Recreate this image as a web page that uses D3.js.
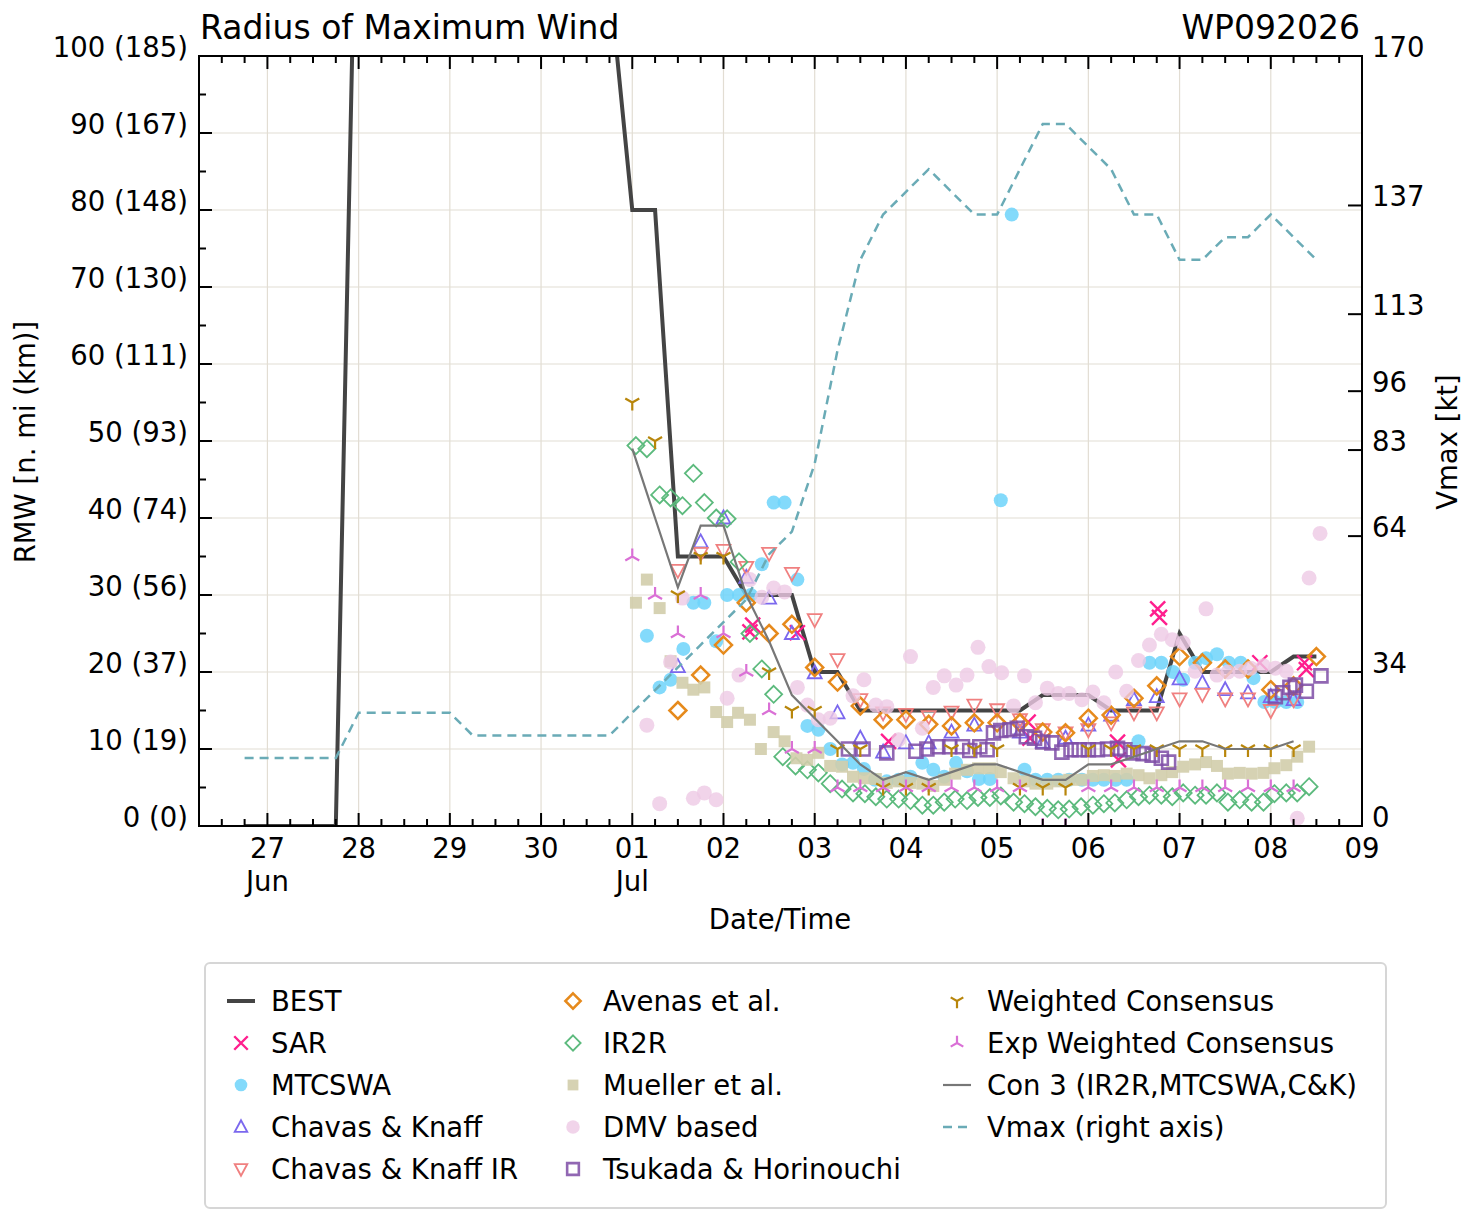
<!DOCTYPE html>
<html>
<head>
<meta charset="utf-8">
<script src="https://cdn.jsdelivr.net/npm/d3@7"></script>
<style>
  body { margin: 0; background: #fff; }
  text { font-family: "DejaVu Sans", sans-serif; fill: #000; }
</style>
</head>
<body>
<svg id="chart" width="1477" height="1222"></svg>
<script>
// times are days after 01 Jul 00Z, values are RMW in n mi (vmax in kt)
var bestTrack = [[-4.25,0],[-4,0],[-3.75,0],[-3.5,0],[-3.25,0],[-3,140],[-2.75,140],[-2.5,140],[-2.25,140],[-2,140],
  [-1.75,130],[-1.5,130],[-1.25,120],[-1,120],[-0.75,115],[-0.5,115],[-0.25,110],[0,80],[0.25,80],[0.5,35],[0.75,35],
  [1,35],[1.25,30],[1.5,30],[1.75,30],[2,20],[2.25,20],[2.5,15],[2.75,15],[3,15],[3.25,15],[3.5,15],[3.75,15],[4,15],
  [4.25,15],[4.5,17],[4.75,17],[5,17],[5.25,15],[5.5,15],[5.75,15],[6,25],[6.25,20],[6.5,20],[6.75,20],[7,20],[7.25,22],[7.5,22]];

var vmax = [[-4.25,15],[-4,15],[-3.75,15],[-3.5,15],[-3.25,15],[-3,25],[-2.75,25],[-2.5,25],[-2.25,25],[-2,25],
  [-1.75,20],[-1.5,20],[-1.25,20],[-1,20],[-0.75,20],[-0.5,20],[-0.25,20],[0,25],[0.25,30],[0.5,35],[0.75,40],[1,45],
  [1.25,50],[1.5,60],[1.75,65],[2,80],[2.25,105],[2.5,125],[2.75,135],[3,140],[3.25,145],[3.5,140],[3.75,135],[4,135],
  [4.25,145],[4.5,155],[4.75,155],[5,150],[5.25,145],[5.5,135],[5.75,135],[6,125],[6.25,125],[6.5,130],[6.75,130],
  [7,135],[7.25,130],[7.5,125]];

var con3 = [[0,49],[0.25,40],[0.5,31],[0.75,39],[1,39],[1.25,30],[1.5,24],[1.75,17],[2,14],[2.25,11],[2.5,8],[2.75,6],
  [3,7],[3.25,6],[3.5,7],[3.75,8],[4,8],[4.25,7],[4.5,6],[4.75,6],[5,8],[5.25,8],[5.5,9],[5.75,10],[6,11],[6.25,11],
  [6.5,10],[6.75,10],[7,10],[7.25,11]];

var sar = [[1.29,25.2],[1.32,26.1],[1.81,25.1],[2.81,11],[4.34,13.5],[4.36,11.4],[5.32,10.9],[5.33,8.6],[5.76,28.2],
  [5.78,27.1],[6.88,21.2],[7.37,21.2],[7.39,20.3]];

var mtcswa = [[0.16,24.7],[0.30,18],[0.42,19],[0.56,23],[0.67,29],[0.79,29],[0.92,24],[1.04,30],[1.17,30],[1.30,30],
  [1.42,34],[1.55,42],[1.67,42],[1.81,32],[1.92,13],[2.04,12.5],[2.17,10],[2.30,8],[2.42,8.2],[2.54,7.4],[2.66,6],
  [2.79,5.8],[2.92,6],[3.05,6.4],[3.18,8.2],[3.30,7.3],[3.42,6.4],[3.55,8.2],[3.67,7.1],[3.80,6.1],[3.92,6.1],
  [4.04,42.3],[4.16,79.4],[4.30,7.3],[4.42,6],[4.55,6],[4.67,6],[4.79,6],[4.93,6],[5.05,6],[5.17,6],[5.30,6],[5.42,6],
  [5.55,11],[5.67,21.2],[5.80,21.2],[5.93,20],[6.04,19],[6.17,21.2],[6.29,21.8],[6.41,22.3],[6.54,21.2],[6.67,21.2],
  [6.81,19.2],[6.93,16.1],[7.05,16.1],[7.17,16.1],[7.29,16.1]];

var chavasKnaff = [[0.5,20.7],[0.75,36.9],[1,40],[1.25,32.3],[1.5,29.6],[1.75,25],[2,19.9],[2.25,14.7],[2.5,11.4],
  [2.75,9.6],[3,10.8],[3.25,10.8],[3.5,12.2],[3.75,13.1],[4.25,12.2],[4.5,10.9],[4.75,11.4],[5,13.1],[5.25,14.4],
  [5.5,16.4],[5.75,16.8],[6,19.1],[6.25,18.6],[6.5,17.7],[6.75,17.3],[7,16.8],[7.25,16.4]];

var chavasKnaffIR = [[0.5,33.2],[0.75,35.4],[1,35.8],[1.25,33.6],[1.5,35.4],[1.75,32.8],[2,26.8],[2.25,21.6],[2.5,16.4],
  [2.75,14.7],[3,14.5],[3.25,14.2],[3.5,14.8],[3.75,15.7],[4,15.1],[4.25,13.8],[4.5,12.5],[4.75,12.1],[5,12.5],
  [5.25,13.4],[5.5,14.7],[5.75,14.7],[6,16.5],[6.25,17.1],[6.5,16.5],[6.75,16.5],[7,15],[7.25,16.4]];

var avenas = [[0.5,15],[0.75,19.6],[1,23.5],[1.25,29],[1.5,25],[1.75,26.2],[2,20.6],[2.25,18.7],[2.5,15.6],[2.75,13.8],
  [3,13.8],[3.25,13.2],[3.5,13],[3.75,13.4],[4,13.4],[4.25,13.4],[4.5,12.2],[4.75,12.1],[5,14],[5.25,14.4],[5.5,16.6],
  [5.75,18.2],[6,22],[6.25,21.2],[6.5,20.4],[6.75,20.4],[7,17.7],[7.25,18.2],[7.5,22]];

var ir2r = [[0.04,49.4],[0.16,49],[0.30,43],[0.42,42.6],[0.55,41.6],[0.67,45.8],[0.79,42],[0.92,40],[1.04,39.9],
  [1.17,34.3],[1.29,25],[1.42,20.4],[1.55,17.1],[1.65,9],[1.79,7.8],[1.92,7.3],[2.04,6.9],[2.17,5.5],[2.30,4.8],
  [2.42,4.3],[2.55,4.2],[2.67,3.8],[2.79,3.5],[2.92,3.5],[3.05,3.3],[3.18,2.7],[3.30,2.7],[3.42,3.1],[3.54,3.5],
  [3.67,3.3],[3.79,3.7],[3.92,3.7],[4.04,3.9],[4.18,3.1],[4.30,2.9],[4.42,2.5],[4.55,2.3],[4.67,2.1],[4.79,2.2],
  [4.92,2.5],[5.05,2.7],[5.17,2.9],[5.29,3],[5.42,3.4],[5.55,3.8],[5.67,4],[5.80,4],[5.92,3.8],[6.04,4.3],[6.17,4],
  [6.29,4],[6.41,4.3],[6.53,3.1],[6.66,3.4],[6.79,3.1],[6.92,3.1],[7.04,4.2],[7.17,4.3],[7.29,4.3],[7.42,5.1]];

var mueller = [[0.04,29],[0.16,32],[0.30,28.3],[0.42,21.4],[0.55,18.6],[0.67,17.7],[0.79,18],[0.92,14.8],[1.04,13.5],
  [1.16,14.7],[1.29,13.8],[1.41,10],[1.55,12.2],[1.67,11],[1.80,8.8],[1.92,8.6],[2.04,9.5],[2.17,7.8],[2.30,7.7],
  [2.42,6.4],[2.54,6.2],[2.67,6.1],[2.79,5.6],[2.92,5.8],[3.05,5.6],[3.18,5.5],[3.30,5.2],[3.42,6],[3.54,6.8],
  [3.67,7.3],[3.79,7.5],[3.92,7.5],[4.04,7],[4.18,6.2],[4.30,5.8],[4.42,5.5],[4.55,5.5],[4.67,5.8],[4.79,6],[4.92,6],
  [5.05,6.5],[5.17,6.6],[5.29,6.5],[5.42,6.8],[5.55,6.6],[5.67,6.2],[5.80,6.6],[5.92,7],[6.04,7.7],[6.17,8],[6.29,8.3],
  [6.41,7.8],[6.53,6.8],[6.66,6.9],[6.79,6.8],[6.92,6.9],[7.04,7.5],[7.17,7.9],[7.29,9],[7.42,10.3]];

var dmv = [[0.16,13.1],[0.30,2.9],[0.42,21.3],[0.55,29.6],[0.67,3.6],[0.79,4.3],[0.92,3.4],[1.04,16.6],[1.17,19.6],
  [1.29,32],[1.42,29.7],[1.55,30.9],[1.67,30.4],[1.81,18],[1.92,15.7],[2.04,13.8],[2.17,14],[2.42,16.9],[2.54,19],
  [2.67,15.7],[2.79,15.5],[2.92,11.2],[3.05,22],[3.18,12.7],[3.30,18],[3.42,19.5],[3.55,18.3],[3.67,19.6],[3.79,23.2],
  [3.91,20.7],[4.05,19.9],[4.18,15.6],[4.30,19.5],[4.42,16],[4.55,17.9],[4.67,17.2],[4.79,17.2],[4.93,16.4],[5.05,17.4],
  [5.17,16],[5.30,20],[5.42,17.5],[5.55,21.5],[5.67,23.5],[5.80,24.9],[5.92,24.2],[6.04,23.8],[6.17,20.1],[6.29,28.2],
  [6.41,19.6],[6.53,20],[6.66,20.1],[6.78,20.5],[6.92,20.8],[7.05,20.5],[7.17,20.1],[7.29,1],[7.42,32.2],[7.54,38]];

var tsukada = [[2.37,10],[2.53,10],[2.79,9.5],[3.11,9.7],[3.23,10],[3.35,10.3],[3.48,10.3],[3.62,10.3],[3.70,9.8],
  [3.81,10.3],[3.89,9.9],[3.96,12.1],[4.04,12.4],[4.14,12.5],[4.22,12.7],[4.32,11.6],[4.41,11.4],[4.50,10.9],[4.60,10.8],
  [4.71,9.6],[4.81,9.9],[4.90,9.9],[5.00,9.9],[5.10,9.9],[5.21,10],[5.32,10.1],[5.40,9.9],[5.49,9.5],[5.60,9.4],
  [5.70,9.2],[5.80,8.8],[5.88,8.3],[7.05,16.8],[7.13,17.3],[7.21,18],[7.27,18.3],[7.39,17.5],[7.55,19.5]];

var weightedCons = [[0,55],[0.25,50],[0.5,30],[0.75,35],[1,35],[1.5,20],[1.75,15],[2,15],[2.25,10],[2.5,10],[2.75,5],
  [3,5],[3.25,5],[3.5,10],[3.75,10],[4,10],[4.25,5],[4.5,5],[4.75,5],[5,10],[5.25,10],[5.5,10],[5.75,10],[6,10],
  [6.25,10],[6.5,10],[6.75,10],[7,10],[7.25,10]];

var expWeightedCons = [[0,35],[0.25,30],[0.5,25],[0.75,30],[1,25],[1.25,20],[1.5,15],[1.75,10],[2,10],[2.25,5],[2.5,5],
  [2.75,5],[3,5],[3.25,5],[3.5,5],[3.75,5],[4,5],[4.25,5],[4.5,0],[4.75,0],[5,5],[5.25,5],[5.5,5],[5.75,5],[6,5],
  [6.25,5],[6.5,5],[6.75,5],[7,5],[7.25,5]];

var rightTicks = [0, 34, 64, 83, 96, 113, 137, 170];

var base = Date.UTC(2026, 6, 1);
function toDate(d){ return new Date(base + d * 864e5); }

var svg = d3.select("#chart");
// plot box edges (named so they don't clash with window.top)
var pL = 199, pR = 1362, pT = 56, pB = 826;

var x = d3.scaleUtc().domain([new Date(Date.UTC(2026, 5, 26, 6)), new Date(Date.UTC(2026, 6, 9))]).range([pL, pR]);
var y = d3.scaleLinear().domain([0, 100]).range([pB, pT]);
var yR = d3.scaleLinear().domain([0, 170]).range([pB, pT]);

svg.append("defs").append("clipPath").attr("id", "plotClip")
  .append("rect").attr("x", pL).attr("y", pT).attr("width", pR - pL).attr("height", pB - pT);

// grid
var grid = svg.append("g").attr("stroke", "#e2ddd3").attr("stroke-width", 1.2);
x.ticks(d3.utcDay).forEach(function(t){
  grid.append("line").attr("x1", x(t)).attr("x2", x(t)).attr("y1", pT).attr("y2", pB);
});
d3.range(10, 100, 10).forEach(function(v){
  grid.append("line").attr("x1", pL).attr("x2", pR).attr("y1", y(v)).attr("y2", y(v));
});

var plot = svg.append("g").attr("clip-path", "url(#plotClip)");
var lineL = d3.line().x(function(d){ return x(toDate(d[0])); }).y(function(d){ return y(d[1]); });
var lineR = d3.line().x(function(d){ return x(toDate(d[0])); }).y(function(d){ return yR(d[1]); });

plot.append("path").datum(bestTrack).attr("d", lineL).attr("fill", "none")
  .attr("stroke", "#444").attr("stroke-width", 4);

// marker shapes
var shapes = {
  x: "M-7.5,-7.5L7.5,7.5M-7.5,7.5L7.5,-7.5",
  triUp: "M0,-7.5L7,5.5L-7,5.5Z",
  triDown: "M0,7.5L7,-5.5L-7,-5.5Z",
  diamond: "M0,-8.5L8.5,0L0,8.5L-8.5,0Z",
  square: "M-6,-6H6V6H-6Z",
  sqOpen: "M-6.5,-6.5H6.5V6.5H-6.5Z",
  yDown: "M0,0V8M0,0L-7,-4M0,0L7,-4",
  yUp: "M0,0V-8M0,0L-7,4M0,0L7,4"
};

var series = [
  {name: "SAR", data: sar, shape: "x", stroke: "#ff1f8e", sw: 2.4},
  {name: "MTCSWA", data: mtcswa, circle: 7, fill: "#6dd3fa", op: 0.85},
  {name: "Chavas & Knaff", data: chavasKnaff, shape: "triUp", stroke: "#7b68ee", sw: 1.8},
  {name: "Chavas & Knaff IR", data: chavasKnaffIR, shape: "triDown", stroke: "#f08080", sw: 1.8},
  {name: "Avenas et al.", data: avenas, shape: "diamond", stroke: "#e68a1c", sw: 2.5},
  {name: "IR2R", data: ir2r, shape: "diamond", stroke: "#5cba7d", sw: 1.8},
  {name: "Mueller et al.", data: mueller, shape: "square", fill: "#d1cdab", op: 0.9},
  {name: "DMV based", data: dmv, circle: 7.5, fill: "#eec9e5", op: 0.8},
  {name: "Tsukada & Horinouchi", data: tsukada, shape: "sqOpen", stroke: "#7e4ca6", sw: 2.6, op: 0.85},
  {name: "Weighted Consensus", data: weightedCons, shape: "yDown", stroke: "#b8860b", sw: 2.2},
  {name: "Exp Weighted Consensus", data: expWeightedCons, shape: "yUp", stroke: "#da70d6", sw: 2.2}
];

function drawMarker(g, s, cx, cy, k){
  k = k || 1;
  if (s.circle){
    g.append("circle").attr("cx", cx).attr("cy", cy).attr("r", s.circle * k)
      .attr("fill", s.fill).attr("opacity", s.op || 1);
  } else {
    g.append("path").attr("d", shapes[s.shape])
      .attr("transform", "translate(" + cx + "," + cy + ") scale(" + k + ")")
      .attr("fill", s.fill || "none").attr("stroke", s.stroke || "none")
      .attr("stroke-width", (s.sw || 0) / k).attr("opacity", s.op || 1);
  }
}

series.forEach(function(s){
  var g = plot.append("g");
  s.data.forEach(function(d){ drawMarker(g, s, x(toDate(d[0])), y(d[1])); });
});

plot.append("path").datum(con3).attr("d", lineL).attr("fill", "none")
  .attr("stroke", "#777").attr("stroke-width", 2.2);
plot.append("path").datum(vmax).attr("d", lineR).attr("fill", "none")
  .attr("stroke", "#6aabb6").attr("stroke-width", 2.5).attr("stroke-dasharray", "9,6");

// frame and ticks (matplotlib style, pointing inward)
var axes = svg.append("g").attr("stroke", "#000");
axes.append("rect").attr("x", pL).attr("y", pT).attr("width", pR - pL).attr("height", pB - pT)
  .attr("fill", "none").attr("stroke-width", 2);
x.ticks(d3.utcHour.every(6)).forEach(function(t){
  var len = t.getUTCHours() === 0 ? 13 : 7;
  axes.append("line").attr("x1", x(t)).attr("x2", x(t)).attr("y1", pB).attr("y2", pB - len).attr("stroke-width", 2);
  axes.append("line").attr("x1", x(t)).attr("x2", x(t)).attr("y1", pT).attr("y2", pT + len).attr("stroke-width", 2);
});
d3.range(0, 101, 5).forEach(function(v){
  var len = v % 10 === 0 ? 13 : 7;
  axes.append("line").attr("x1", pL).attr("x2", pL + len).attr("y1", y(v)).attr("y2", y(v)).attr("stroke-width", 2);
});
rightTicks.forEach(function(v){
  axes.append("line").attr("x1", pR - 14).attr("x2", pR).attr("y1", yR(v)).attr("y2", yR(v)).attr("stroke-width", 2);
});

// tick labels (they sit a little above their ticks in the original)
var fs = 27.5;
d3.range(0, 101, 10).forEach(function(v){
  svg.append("text").attr("x", 188).attr("y", y(v) + 1).attr("text-anchor", "end")
    .attr("font-size", fs).text(v + " (" + Math.round(v * 1.852) + ")");
});
rightTicks.forEach(function(v){
  svg.append("text").attr("x", 1372).attr("y", yR(v) + 1).attr("font-size", fs).text(v);
});
var dayFmt = d3.utcFormat("%d"), monFmt = d3.utcFormat("%b");
x.ticks(d3.utcDay).forEach(function(t, i){
  svg.append("text").attr("x", x(t)).attr("y", 858).attr("text-anchor", "middle").attr("font-size", fs).text(dayFmt(t));
  if (i === 0 || t.getUTCDate() === 1){
    svg.append("text").attr("x", x(t)).attr("y", 891).attr("text-anchor", "middle").attr("font-size", fs).text(monFmt(t));
  }
});

// titles and axis labels
svg.append("text").attr("x", 200).attr("y", 39).attr("font-size", 33).text("Radius of Maximum Wind");
svg.append("text").attr("x", 1360).attr("y", 39).attr("text-anchor", "end").attr("font-size", 33).text("WP092026");
svg.append("text").attr("x", 780).attr("y", 929).attr("text-anchor", "middle").attr("font-size", fs).text("Date/Time");
svg.append("text").attr("transform", "translate(35,442) rotate(-90)").attr("text-anchor", "middle")
  .attr("font-size", fs).text("RMW [n. mi (km)]");
svg.append("text").attr("transform", "translate(1457,442) rotate(-90)").attr("text-anchor", "middle")
  .attr("font-size", fs).text("Vmax [kt]");

// legend
var leg = svg.append("g");
leg.append("rect").attr("x", 205).attr("y", 963).attr("width", 1181).attr("height", 245).attr("rx", 5)
  .attr("fill", "#fff").attr("stroke", "#d6d6d6").attr("stroke-width", 2);
var legItems = [{name: "BEST", line: "#444", lw: 4}].concat(series.slice(0, 4), series.slice(4, 9), series.slice(9),
  [{name: "Con 3 (IR2R,MTCSWA,C&K)", line: "#777", lw: 2.2}, {name: "Vmax (right axis)", line: "#6aabb6", lw: 2.5, dash: "9,6"}]);
var colX = [241, 573, 957];
legItems.forEach(function(s, i){
  var col = Math.floor(i / 5), row = i % 5;
  var cx = colX[col], cy = 1001 + row * 42;
  if (s.line){
    leg.append("line").attr("x1", cx - 14).attr("x2", cx + 14).attr("y1", cy).attr("y2", cy)
      .attr("stroke", s.line).attr("stroke-width", s.lw).attr("stroke-dasharray", s.dash || null);
  } else {
    drawMarker(leg.append("g"), s, cx, cy, 0.9);
  }
  leg.append("text").attr("x", cx + 30).attr("y", cy + 10).attr("font-size", fs).text(s.name);
});
</script>
</body>
</html>
